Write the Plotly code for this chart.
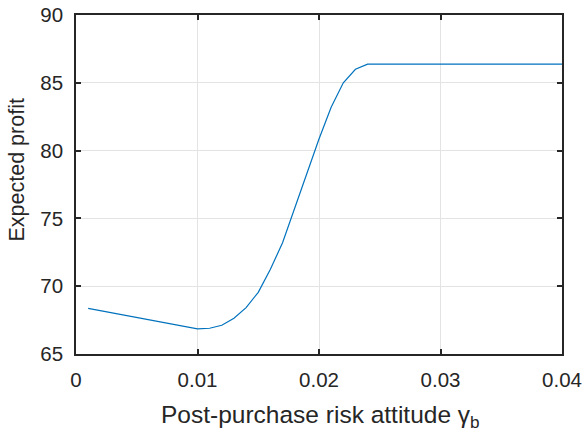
import plotly.graph_objects as go

gamma_b = [0.001, 0.002, 0.003, 0.004, 0.005, 0.006, 0.007, 0.008, 0.009, 0.010,
           0.011, 0.012, 0.013, 0.014, 0.015, 0.016, 0.017, 0.018, 0.019, 0.020,
           0.021, 0.022, 0.023, 0.024, 0.025, 0.026, 0.027, 0.028, 0.029, 0.030,
           0.031, 0.032, 0.033, 0.034, 0.035, 0.036, 0.037, 0.038, 0.039, 0.040]
profit = [68.36, 68.19, 68.02, 67.85, 67.68, 67.51, 67.34, 67.17, 66.98, 66.86,
          66.90, 67.12, 67.64, 68.42, 69.55, 71.25, 73.20, 75.75, 78.35, 80.85,
          83.20, 85.00, 86.00, 86.38, 86.38, 86.38, 86.38, 86.38, 86.38, 86.38,
          86.38, 86.38, 86.38, 86.38, 86.38, 86.38, 86.38, 86.38, 86.38, 86.38]

x_ticks = [0, 0.01, 0.02, 0.03, 0.04]
x_ticklabels = ["0", "0.01", "0.02", "0.03", "0.04"]
y_ticks = [65, 70, 75, 80, 85, 90]
x_title = "Post-purchase risk attitude γ<sub>b</sub>"
y_title = "Expected profit"

FONT = "Liberation Sans, Arial, Helvetica"
DARK = "#262626"

fig = go.Figure()
fig.add_trace(go.Scatter(x=gamma_b, y=profit, mode="lines",
                         line=dict(color="#0072BD", width=1.2), showlegend=False))

axis_common = dict(showline=True, linecolor=DARK, linewidth=1.5, mirror="ticks",
                   ticks="inside", ticklen=5, tickcolor=DARK, tickwidth=1.5,
                   showgrid=True, gridcolor="#e3e3e3", gridwidth=1, zeroline=False,
                   automargin=False,
                   tickfont=dict(family=FONT, size=20.5, color=DARK))

fig.update_xaxes(range=[0, 0.04], tickvals=x_ticks, ticktext=x_ticklabels,
                 ticklabelstandoff=7, **axis_common)
fig.update_yaxes(range=[65, 90], tickvals=y_ticks, ticklabelstandoff=7, **axis_common)

fig.add_annotation(text=x_title, xref="paper", yref="paper", x=0.5, y=0,
                   xanchor="center", yanchor="top", yshift=-45, xshift=1, showarrow=False,
                   font=dict(family=FONT, size=24.5, color=DARK))
fig.add_annotation(text=y_title, xref="paper", yref="paper", x=0, y=0.5,
                   xanchor="right", yanchor="middle", xshift=-46, yshift=15,
                   textangle=-90, showarrow=False,
                   font=dict(family=FONT, size=21.5, color=DARK))

fig.update_layout(width=585, height=435, margin=dict(l=76, r=23, t=15, b=81),
                  plot_bgcolor="white", paper_bgcolor="white")

fig.write_html("out.html")
